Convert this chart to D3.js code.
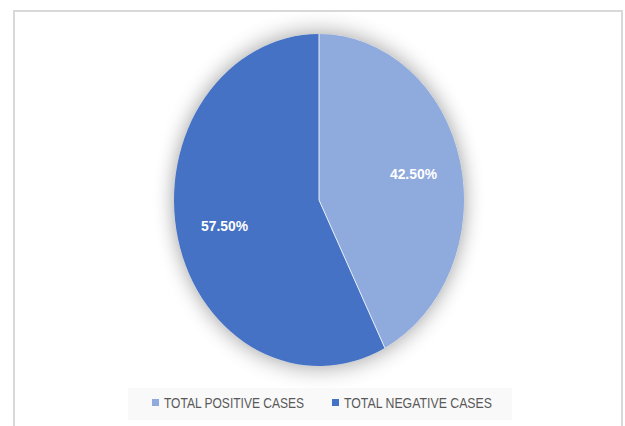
<!DOCTYPE html>
<html>
<head>
<meta charset="utf-8">
<script src="https://cdn.jsdelivr.net/npm/d3@7"></script>
<style>
  body { margin: 0; background: #ffffff; }
</style>
</head>
<body>
<svg></svg>
<script>
const categories = ['TOTAL POSITIVE CASES', 'TOTAL NEGATIVE CASES']
const values = [42.5, 57.5]
const labels = ['42.50%', '57.50%']
const colors = ['#8FAADC', '#4472C4']

const width = 625
const height = 426
const cx = 319
const cy = 200
const rx = 145
const ry = 166

const svg = d3.select('svg')
              .attr('width', width)
              .attr('height', height)

const defs = svg.append('defs')
const shadow = defs.append('filter')
                   .attr('id', 'shadow')
                   .attr('x', '-30%').attr('y', '-30%')
                   .attr('width', '160%').attr('height', '160%')
shadow.append('feGaussianBlur')
      .attr('in', 'SourceAlpha')
      .attr('stdDeviation', 10)
      .attr('result', 'blur')
shadow.append('feComponentTransfer')
      .append('feFuncA').attr('type', 'linear').attr('slope', 0.4)
shadow.append('feMerge')
      .selectAll('feMergeNode')
      .data([null, 'SourceGraphic'])
      .join('feMergeNode')
      .attr('in', d => d)

// chart frame (no bottom edge visible)
svg.append('path')
   .attr('d', `M14,${height} V11 H622 V${height}`)
   .attr('fill', 'none')
   .attr('stroke', '#d9d9d9')
   .attr('stroke-width', 2)

const pie = d3.pie().sort(null).value(d => d)
const arcs = pie(values)
const arc = d3.arc().innerRadius(0).outerRadius(rx)
const labelArc = d3.arc().innerRadius(rx * 0.67).outerRadius(rx * 0.67)

const g = svg.append('g')
             .attr('transform', `translate(${cx}, ${cy})`)

const slices = g.append('g')
                .attr('transform', `scale(1, ${ry / rx})`)
                .attr('filter', 'url(#shadow)')

slices.selectAll('path')
      .data(arcs)
      .join('path')
      .attr('d', arc)
      .attr('fill', (d, i) => colors[i])

// thin white separators between slices
slices.selectAll('line')
      .data(arcs)
      .join('line')
      .attr('x1', 0).attr('y1', 0)
      .attr('x2', d => rx * Math.sin(d.startAngle))
      .attr('y2', d => -rx * Math.cos(d.startAngle))
      .attr('stroke', '#ffffff')
      .attr('stroke-width', 0.8)

g.selectAll('text')
 .data(arcs)
 .join('text')
 .attr('x', d => labelArc.centroid(d)[0])
 .attr('y', d => labelArc.centroid(d)[1] * ry / rx)
 .attr('dy', '0.35em')
 .attr('text-anchor', 'middle')
 .attr('fill', '#ffffff')
 .attr('textLength', 47)
 .attr('lengthAdjust', 'spacingAndGlyphs')
 .style('font-family', 'Liberation Sans, Arial, sans-serif')
 .style('font-weight', 'bold')
 .style('font-size', '15px')
 .text((d, i) => labels[i])

// legend
svg.append('rect')
   .attr('x', 128).attr('y', 388)
   .attr('width', 384).attr('height', 32)
   .attr('fill', '#f9f9f9')

const legendX = [152, 332]
const legend = svg.append('g')
                  .selectAll('g')
                  .data(categories)
                  .join('g')
                  .attr('transform', (d, i) => `translate(${legendX[i]}, 403)`)

legend.append('rect')
      .attr('x', 0).attr('y', -4)
      .attr('width', 7).attr('height', 7)
      .attr('fill', (d, i) => colors[i])

legend.append('text')
      .attr('x', 12)
      .attr('dy', '0.36em')
      .attr('fill', '#595959')
      .attr('textLength', (d, i) => i === 0 ? 140 : 148)
      .attr('lengthAdjust', 'spacingAndGlyphs')
      .style('font-family', 'Liberation Sans, Arial, sans-serif')
      .style('font-size', '14.5px')
      .text(d => d)
</script>
</body>
</html>
